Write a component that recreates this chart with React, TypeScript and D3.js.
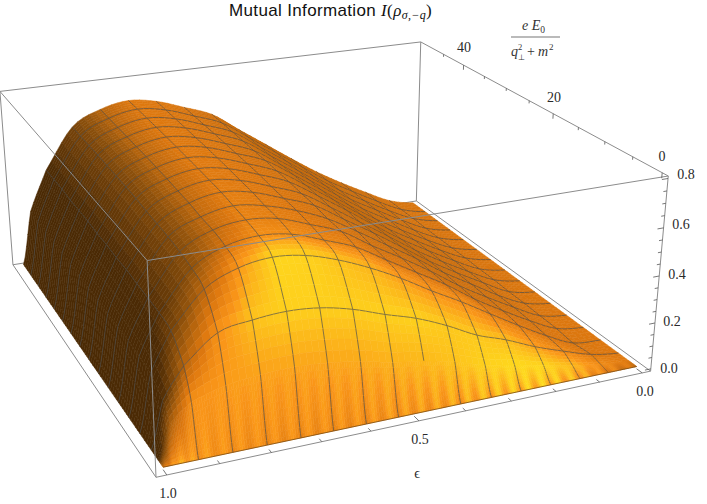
import React from 'react';
import * as d3 from 'd3';

const epsilons = [0, .067, .133, .2, .267, .333, .4, .467, .533, .6, .667, .733, .8, .867, .933, .975, 1];
const fields = [0, 1.5, 3.33, 6.67, 10, 13.33, 16.67, 20, 23.33, 26.67, 30, 33.33, 36.67, 40, 43.33, 46.67, 50];
// mutual information, one row per field value
const info = [
  [0, 0, 0, 0, 0, 0, 0, 0, 0, 0, 0, 0, 0, 0, 0, 0, 0],
  [0, .01, .03, .055, .085, .11, .15, .18, .2, .23, .25, .26, .255, .24, .2, .13, 0],
  [0, .02, .06, .105, .16, .205, .27, .325, .365, .41, .44, .45, .44, .415, .31, .19, 0],
  [0, .012, .07, .14, .215, .29, .36, .435, .5, .555, .595, .61, .59, .53, .39, .235, 0],
  [0, .02, .08, .15, .225, .31, .385, .46, .535, .585, .63, .645, .625, .56, .405, .245, 0],
  [0, .022, .085, .155, .23, .315, .395, .47, .55, .6, .645, .66, .64, .575, .41, .25, 0],
  [0, .025, .085, .16, .235, .32, .4, .48, .555, .61, .65, .67, .645, .585, .415, .25, 0],
  [0, .025, .09, .16, .235, .32, .405, .485, .565, .615, .66, .68, .655, .59, .42, .25, 0],
  [0, .028, .09, .16, .235, .32, .405, .49, .57, .62, .665, .685, .66, .595, .42, .25, 0],
  [0, .028, .09, .16, .235, .32, .41, .495, .576, .627, .671, .69, .666, .602, .425, .25, 0],
  [0, .03, .09, .16, .235, .32, .41, .498, .58, .631, .675, .694, .67, .606, .425, .25, 0],
  [0, .03, .09, .16, .235, .32, .41, .5, .584, .634, .679, .698, .674, .609, .43, .25, 0],
  [0, .03, .09, .162, .236, .322, .412, .5, .586, .637, .681, .701, .676, .612, .43, .25, 0],
  [0, .03, .092, .163, .236, .323, .413, .502, .589, .64, .684, .704, .679, .615, .43, .25, 0],
  [0, .032, .092, .163, .237, .324, .414, .503, .591, .641, .686, .706, .681, .616, .435, .25, 0],
  [0, .032, .094, .164, .238, .325, .415, .505, .593, .643, .688, .708, .683, .618, .435, .25, 0],
  [0, .032, .095, .164, .24, .325, .415, .505, .595, .645, .69, .71, .685, .62, .435, .25, 0],
];
const epsMeshSkip = [15]; // column without a mesh line
const fieldMeshSkip = [1];
const epsTicks = [0, .1, .2, .3, .4, .5, .6, .7, .8, .9, 1];
const fieldTicks = [0, 5, 10, 15, 20, 25, 30, 35, 40, 45];
const zTicks = [0, .05, .1, .15, .2, .25, .3, .35, .4, .45, .5, .55, .6, .65, .7, .75, .8];

const EPS = [-.02, 1.02];
const FIELD = [-1, 51];
const Z = [-.01, .81];
// box corners as seen in the picture: [eps, field, z, x, y]
const corners = [
  [EPS[1], FIELD[0], Z[0], 156, 477], [EPS[0], FIELD[0], Z[0], 651, 371],
  [EPS[1], FIELD[1], Z[0], 13, 265], [EPS[0], FIELD[1], Z[0], 416, 201],
  [EPS[1], FIELD[0], Z[1], 147, 261], [EPS[0], FIELD[0], Z[1], 668, 176],
  [EPS[1], FIELD[1], Z[1], 0, 91], [EPS[0], FIELD[1], Z[1], 421, 42],
];

const ex = d3.scaleLinear().domain(EPS).range([0, 1]);
const fy = d3.scaleLinear().domain(FIELD).range([0, 1]);
const zz = d3.scaleLinear().domain(Z).range([0, 1]);

// least squares camera through the eight corners
function fitCamera() {
  const rows: number[][] = [];
  corners.forEach(([a, b, c, x, y]) => {
    const u = ex(a), v = fy(b), w = zz(c);
    rows.push([u, v, w, 1, 0, 0, 0, 0, -x * u, -x * v, -x * w, x]);
    rows.push([0, 0, 0, 0, u, v, w, 1, -y * u, -y * v, -y * w, y]);
  });
  const n = 11;
  const m = d3.range(n).map(i => d3.range(n + 1).map(j => d3.sum(rows, r => r[i] * r[j])));
  for (let i = 0; i < n; i++) {
    let p = i;
    for (let k = i + 1; k < n; k++) if (Math.abs(m[k][i]) > Math.abs(m[p][i])) p = k;
    [m[i], m[p]] = [m[p], m[i]];
    for (let k = 0; k < n; k++) {
      if (k === i) continue;
      const f = m[k][i] / m[i][i];
      for (let j = i; j <= n; j++) m[k][j] -= f * m[i][j];
    }
  }
  return m.map((r, i) => r[n] / r[i]);
}
const cam = fitCamera();
function project(eps: number, field: number, z: number): [number, number] {
  const u = ex(eps), v = fy(field), w = zz(z);
  const d = cam[8] * u + cam[9] * v + cam[10] * w + 1;
  return [(cam[0] * u + cam[1] * v + cam[2] * w + cam[3]) / d, (cam[4] * u + cam[5] * v + cam[6] * w + cam[7]) / d];
}

const shade = d3.scaleLinear<string>()
  .domain([0, .28, .5, .6, .72])
  .range(['#4b2a05', '#96550c', '#de780f', '#fa9619', '#ffe81e'])
  .clamp(true);

const nE = epsilons.length, nF = fields.length;
const light = info.map((row, j) => row.map((_, i) => {
  const i0 = Math.max(i - 1, 0), i1 = Math.min(i + 1, nE - 1);
  const j0 = Math.max(j - 1, 0), j1 = Math.min(j + 1, nF - 1);
  const dzE = ((info[j][i1] - info[j][i0]) / .8 * .4) / (epsilons[i1] - epsilons[i0]);
  const dzF = ((info[j1][i] - info[j0][i]) / .8 * .4) / ((fields[j1] - fields[j0]) / 50);
  const len = Math.hypot(dzE, dzF, 1);
  const nx = -dzE / len, ny = -dzF / len, nz = 1 / len;
  return .5 * nz + .5 * Math.max(-ny, 0) - .3 * Math.max(nx, 0);
}));

// smooth height inside a cell, in index space
const cr = (a: number, b: number, c: number, d: number, t: number) =>
  .5 * (2 * b + (c - a) * t + (2 * a - 5 * b + 4 * c - d) * t * t + (3 * b - a - 3 * c + d) * t * t * t);
const at = (j: number, i: number) => info[Math.max(0, Math.min(nF - 1, j))][Math.max(0, Math.min(nE - 1, i))];
function height(j: number, s: number, i: number, t: number) {
  const col = [-1, 0, 1, 2].map(dj => cr(at(j + dj, i - 1), at(j + dj, i), at(j + dj, i + 1), at(j + dj, i + 2), t));
  return Math.max(0, cr(col[0], col[1], col[2], col[3], s));
}

const SUB = 5;
const meshColor = '#4a4a48';
function surfacePieces() {
  const out: React.ReactNode[] = [];
  const point = (j: number, s: number, i: number, t: number) => {
    const e = epsilons[i] + (epsilons[Math.min(i + 1, nE - 1)] - epsilons[i]) * t;
    const f = fields[j] + (fields[Math.min(j + 1, nF - 1)] - fields[j]) * s;
    return project(e, f, height(j, s, i, t));
  };
  // far cells first
  for (let j = nF - 2; j >= 0; j--) {
    // the front band needs finer pieces for its streaks
    const subA = j === 0 ? 14 : SUB, subB = j === 0 ? 10 : SUB;
    for (let i = 0; i < nE - 1; i++) {
      for (let b = subB - 1; b >= 0; b--) {
        for (let a = 0; a < subA; a++) {
          const t0 = a / subA, t1 = (a + 1) / subA, s0 = b / subB, s1 = (b + 1) / subB;
          const p = [point(j, s0, i, t0), point(j, s0, i, t1), point(j, s1, i, t1), point(j, s1, i, t0)];
          const tm = (t0 + t1) / 2, sm = (s0 + s1) / 2;
          let l = (1 - sm) * ((1 - tm) * light[j][i] + tm * light[j][i + 1]) + sm * ((1 - tm) * light[j + 1][i] + tm * light[j + 1][i + 1]);
          // the streaks along the front edge of the surface
          if (j === 0) l -= (.05 + .07 * (1 - epsilons[i])) * (1 - sm) * (.5 + .5 * Math.cos(tm * 4 * Math.PI));
          const c = shade(l);
          out.push(<polygon key={`q${j}-${i}-${a}-${b}`} points={p.join(' ')} fill={c} stroke={c} strokeWidth={.5} />);
          // mesh runs along the data rows and columns
          if (a === 0 && i > 0 && !epsMeshSkip.includes(i) && !(i === 7 && j === 0)) {
            out.push(<line key={`e${j}-${i}-${b}`} x1={p[0][0]} y1={p[0][1]} x2={p[3][0]} y2={p[3][1]} stroke={meshColor} strokeOpacity={.85} strokeWidth={.8} />);
          }
          if (b === subB - 1 && j + 1 < nF - 1 && !fieldMeshSkip.includes(j + 1)) {
            out.push(<line key={`f${j}-${i}-${a}`} x1={p[3][0]} y1={p[3][1]} x2={p[2][0]} y2={p[2][1]} stroke={meshColor} strokeOpacity={.85} strokeWidth={.8} />);
          }
        }
      }
    }
  }
  return out;
}

const edge = (a: number[], b: number[]) => {
  const p = project(a[0], a[1], a[2]), q = project(b[0], b[1], b[2]);
  return <line x1={p[0]} y1={p[1]} x2={q[0]} y2={q[1]} stroke="#8c8c8c" strokeWidth={1} />;
};

const serif = '"Liberation Serif", serif';
const tickStyle = { fontFamily: serif, fontSize: 14, fill: '#2a2a2a' };

export default function App() {
  const [e0, e1] = EPS, [f0, f1] = FIELD, [z0, z1] = Z;
  const frontLine = d3.line()(epsilons.map(e => project(e, 0, 0))) as string;
  return (
    <svg width={707} height={504} style={{ position: 'absolute', left: 0, top: 0, background: '#fff' }}>
      <g>
        {edge([e1, f1, z1], [e0, f1, z1])}
        {edge([e0, f1, z1], [e0, f0, z1])}
        {edge([e0, f1, z1], [e0, f1, z0])}
        {edge([e1, f1, z1], [e1, f1, z0])}
        {edge([e1, f1, z0], [e0, f1, z0])}
        {edge([e0, f1, z0], [e0, f0, z0])}
        {edge([e1, f1, z0], [e1, f0, z0])}
        {edge([e1, f0, z0], [e0, f0, z0])}
        {edge([e0, f0, z0], [e0, f0, z1])}
      </g>
      <g>{surfacePieces()}</g>
      <path d={frontLine} fill="none" stroke="#7a4a10" strokeWidth={.8} />
      <g>
        {edge([e1, f1, z1], [e1, f0, z1])}
        {edge([e1, f0, z1], [e0, f0, z1])}
        {edge([e1, f0, z1], [e1, f0, z0])}
      </g>
      <g stroke="#555" strokeWidth={.8}>
        {epsTicks.map(e => {
          const p = project(e, f0, z0), q = project(e, f0 + (e === .5 || e === 1 || e === 0 ? 1 : .6), z0);
          return <line key={e} x1={p[0]} y1={p[1]} x2={q[0]} y2={q[1]} />;
        })}
        {fieldTicks.map(f => {
          const p = project(e0, f, z1), q = project(e0, f, z1 - (f % 20 === 0 ? .022 : .012));
          return <line key={f} x1={p[0]} y1={p[1]} x2={q[0]} y2={q[1]} />;
        })}
        {zTicks.map(z => {
          const major = Math.round(z * 100) % 20 === 0;
          const p = project(e0, f0, z), q = project(e0 + (major ? .014 : .008), f0, z);
          return <line key={z} x1={p[0]} y1={p[1]} x2={q[0]} y2={q[1]} />;
        })}
      </g>
      <g textAnchor="middle" style={tickStyle}>
        <text x={168} y={498}>1.0</text>
        <text x={420} y={444}>0.5</text>
        <text x={645} y={396}>0.0</text>
        <text x={662} y={161}>0</text>
        <text x={554} y={102}>20</text>
        <text x={464} y={52}>40</text>
        <text x={686} y={179}>0.8</text>
        <text x={681} y={229}>0.6</text>
        <text x={677} y={279}>0.4</text>
        <text x={672} y={326}>0.2</text>
        <text x={669} y={373}>0.0</text>
        <text x={417} y={478}>ϵ</text>
      </g>
      <text x={229} y={16} style={{ fontFamily: '"Liberation Sans", sans-serif', fontSize: 17, letterSpacing: .35, fill: '#111' }}>
        Mutual Information
        <tspan dx={5} fontFamily={serif} fontStyle="italic">I</tspan>
        <tspan fontFamily={serif}>(</tspan>
        <tspan fontFamily={serif} fontStyle="italic">ρ</tspan>
        <tspan fontFamily={serif} fontStyle="italic" fontSize={12} dy={3}>σ,−q</tspan>
        <tspan fontFamily={serif} dy={-3}>)</tspan>
      </text>
      <g style={{ fontFamily: serif, fontSize: 14, fill: '#333' }}>
        <text x={522} y={30} fontStyle="italic">e E<tspan fontSize={9.5} dy={3} fontStyle="normal">0</tspan></text>
        <line x1={511} x2={560} y1={37} y2={37} stroke="#777" strokeWidth={1.2} />
        <text x={511} y={56} fontStyle="italic">q</text>
        <text x={518} y={50} fontSize={8.5}>2</text>
        <text x={518} y={60} fontSize={8}>⊥</text>
        <text x={527} y={56}>+</text>
        <text x={538} y={56} fontStyle="italic">m</text>
        <text x={549} y={50} fontSize={9}>2</text>
      </g>
    </svg>
  );
}
